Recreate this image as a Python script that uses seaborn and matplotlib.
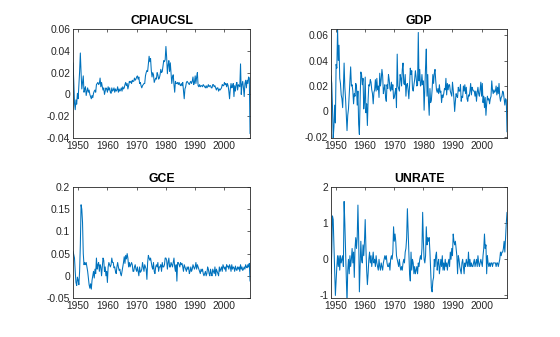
import matplotlib
matplotlib.use("Agg")
import matplotlib.pyplot as plt
import numpy as np
import pandas as pd
import seaborn as sns

# Quarterly changes, 1948Q2 - 2008Q4 (log-differences for CPI, GDP, GCE;
# first difference for the unemployment rate).
start_quarter = "1948Q2"

cpiaucsl = [
    0.029, 0.012, -0.008,
    -0.014, -0.005, -0.009, 0.001,
    -0.004, 0.008, 0.021, 0.038,
    0.020, 0.005, 0.011, 0.017,
    0.002, 0.005, 0.007, -0.001,
    0.003, 0.006, 0.002, 0.004,
    0.000, -0.002, -0.004, -0.001,
    -0.003, 0.001, 0.003, 0.004,
    0.002, 0.009, 0.010, 0.011,
    0.009, 0.010, 0.015, 0.007,
    0.011, 0.007, 0.004, 0.006,
    0.000, 0.003, 0.006, 0.005,
    0.002, 0.007, 0.004, 0.006,
    0.002, 0.001, 0.006, 0.003,
    0.004, 0.006, 0.002, 0.005,
    0.003, 0.004, 0.007, 0.002,
    0.005, 0.003, 0.004, 0.006,
    0.003, 0.007, 0.005, 0.006,
    0.009, 0.011, 0.008, 0.010,
    0.005, 0.008, 0.012, 0.011,
    0.012, 0.010, 0.013, 0.012,
    0.012, 0.015, 0.013, 0.014,
    0.016, 0.017, 0.014, 0.016,
    0.010, 0.011, 0.008, 0.006,
    0.008, 0.009, 0.010, 0.010,
    0.017, 0.020, 0.022, 0.021,
    0.028, 0.035, 0.030, 0.033,
    0.022, 0.016, 0.020, 0.018,
    0.011, 0.013, 0.015, 0.014,
    0.020, 0.018, 0.014, 0.015,
    0.018, 0.023, 0.020, 0.021,
    0.026, 0.031, 0.030, 0.032,
    0.044, 0.034, 0.019, 0.027,
    0.031, 0.021, 0.029, 0.019,
    0.010, 0.016, 0.018, 0.009,
    0.002, 0.012, 0.010, 0.010,
    0.011, 0.009, 0.011, 0.009,
    0.008, 0.010, 0.008, 0.011,
    0.003, -0.004, 0.005, 0.007,
    0.011, 0.012, 0.011, 0.010,
    0.009, 0.011, 0.012, 0.010,
    0.012, 0.016, 0.009, 0.011,
    0.017, 0.010, 0.016, 0.020,
    0.008, 0.007, 0.009, 0.007,
    0.008, 0.008, 0.007, 0.009,
    0.008, 0.007, 0.006, 0.008,
    0.006, 0.007, 0.009, 0.007,
    0.008, 0.008, 0.006, 0.006,
    0.009, 0.009, 0.007, 0.008,
    0.006, 0.004, 0.006, 0.006,
    0.003, 0.005, 0.004, 0.005,
    0.006, 0.009, 0.008, 0.008,
    0.011, 0.009, 0.010, 0.007,
    0.010, 0.008, 0.003, -0.004,
    0.005, 0.010, 0.006, 0.007,
    0.010, -0.002, 0.008, 0.003,
    0.009, 0.011, 0.004, 0.009,
    0.008, 0.007, 0.028, 0.000,
    0.009, 0.012, 0.006, -0.002,
    0.010, 0.013, 0.006, 0.013,
    0.010, 0.016, 0.015, -0.036,
]

gdp = [
    0.028, 0.022, 0.004,
    -0.021, -0.012, 0.005, -0.009,
    0.037, 0.034, 0.065, 0.040,
    0.052, 0.026, 0.022, 0.013,
    0.010, 0.003, 0.018, 0.038,
    0.019, 0.010, -0.002, -0.015,
    -0.003, 0.002, 0.013, 0.024,
    0.035, 0.020, 0.021, 0.016,
    0.006, 0.014, 0.012, 0.022,
    0.020, 0.005, 0.016, -0.010,
    -0.018, 0.009, 0.031, 0.029,
    0.021, 0.026, 0.002, 0.008,
    0.027, -0.001, 0.006, -0.011,
    0.009, 0.021, 0.020, 0.025,
    0.023, 0.017, 0.014, 0.006,
    0.015, 0.017, 0.025, 0.016,
    0.026, 0.017, 0.020, 0.011,
    0.030, 0.020, 0.025, 0.033,
    0.028, 0.014, 0.018, 0.021,
    0.011, 0.008, 0.021, 0.018,
    0.029, 0.025, 0.018, 0.016,
    0.023, 0.017, 0.021, 0.010,
    0.011, 0.015, 0.018, 0.003,
    0.045, 0.020, 0.018, 0.016,
    0.029, 0.026, 0.020, 0.033,
    0.038, 0.022, 0.021, 0.029,
    0.012, 0.021, 0.022, 0.017,
    0.010, 0.020, 0.034, 0.029,
    0.032, 0.018, 0.016, 0.021,
    0.025, 0.032, 0.027, 0.020,
    0.021, 0.062, 0.024, 0.033,
    0.020, 0.021, 0.029, 0.021,
    0.024, 0.001, 0.019, 0.035,
    0.049, 0.012, 0.029, 0.008,
    -0.003, 0.018, 0.007, 0.009,
    0.017, 0.029, 0.022, 0.030,
    0.033, 0.024, 0.017, 0.015,
    0.018, 0.014, 0.021, 0.015,
    0.016, 0.007, 0.013, 0.011,
    0.014, 0.018, 0.017, 0.026,
    0.013, 0.022, 0.017, 0.021,
    0.021, 0.016, 0.014, 0.012,
    0.023, 0.017, 0.010, 0.000,
    0.008, 0.014, 0.012, 0.011,
    0.019, 0.016, 0.016, 0.021,
    0.008, 0.012, 0.011, 0.020,
    0.016, 0.021, 0.014, 0.019,
    0.010, 0.008, 0.013, 0.012,
    0.016, 0.022, 0.013, 0.019,
    0.017, 0.016, 0.016, 0.012,
    0.016, 0.008, 0.015, 0.019,
    0.014, 0.012, 0.017, 0.023,
    0.012, 0.022, 0.007, 0.012,
    0.003, 0.011, -0.003, 0.006,
    0.012, 0.009, 0.010, 0.006,
    0.010, 0.012, 0.024, 0.017,
    0.014, 0.017, 0.015, 0.016,
    0.020, 0.013, 0.019, 0.014,
    0.022, 0.012, 0.008, 0.011,
    0.012, 0.016, 0.015, 0.010,
    0.005, 0.010, 0.009, -0.016,
]

gce = [
    0.055, 0.048, 0.040,
    0.010, -0.015, -0.022, -0.003,
    -0.010, -0.020, 0.010, 0.070,
    0.160, 0.150, 0.120, 0.050,
    0.025, 0.030, 0.025, 0.030,
    0.020, 0.010, -0.005, -0.020,
    -0.028, -0.018, -0.030, -0.010,
    0.000, 0.010, -0.005, 0.015,
    0.005, 0.040, 0.015, 0.025,
    0.030, 0.010, 0.025, 0.020,
    0.000, 0.020, 0.040, 0.035,
    0.010, 0.020, 0.000, 0.010,
    -0.015, 0.020, 0.030, 0.025,
    0.020, 0.025, 0.040, 0.030,
    0.030, 0.018, 0.020, 0.010,
    0.005, 0.020, 0.030, 0.020,
    0.012, 0.015, 0.005, 0.000,
    0.010, 0.020, 0.030, 0.043,
    0.028, 0.046, 0.038, 0.050,
    0.040, 0.020, 0.030, 0.020,
    0.025, 0.030, 0.025, 0.010,
    0.010, 0.020, 0.025, 0.015,
    0.010, 0.020, 0.010, 0.000,
    0.020, 0.008, 0.010, 0.015,
    0.030, 0.020, 0.010, 0.025,
    0.020, 0.015, -0.008, 0.030,
    0.046, 0.040, 0.035, 0.040,
    0.030, 0.020, 0.015, 0.030,
    0.010, 0.005, 0.020, 0.025,
    0.020, 0.030, 0.010, 0.020,
    0.020, 0.025, 0.010, 0.030,
    0.020, 0.020, 0.025, 0.040,
    0.040, 0.035, 0.015, 0.030,
    0.040, 0.020, 0.020, 0.030,
    0.025, 0.020, 0.030, 0.040,
    0.020, 0.010, 0.025, -0.012,
    0.030, 0.030, 0.025, 0.020,
    0.030, 0.025, 0.028, 0.020,
    0.010, 0.025, 0.020, 0.015,
    0.010, 0.020, 0.015, 0.020,
    0.005, 0.010, 0.020, 0.010,
    0.015, 0.025, 0.020, 0.015,
    0.020, 0.030, 0.015, 0.025,
    0.020, 0.015, 0.010, 0.005,
    0.015, 0.010, 0.015, 0.005,
    0.000, 0.005, 0.010, 0.000,
    0.005, 0.020, 0.015, 0.005,
    0.000, 0.015, 0.005, 0.000,
    0.015, 0.010, 0.005, 0.020,
    0.000, 0.015, 0.010, 0.005,
    0.000, 0.020, 0.010, 0.015,
    0.020, 0.010, 0.025, 0.020,
    0.015, 0.020, 0.010, 0.025,
    0.020, 0.022, 0.015, 0.025,
    0.020, 0.010, 0.025, 0.015,
    0.020, 0.018, 0.010, 0.022,
    0.015, 0.012, 0.020, 0.015,
    0.020, 0.010, 0.025, 0.015,
    0.020, 0.012, 0.015, 0.020,
    0.015, 0.025, 0.020, 0.018,
    0.025, 0.020, 0.028, -0.012,
]

unrate = [
    -0.4, 0.2, 1.2,
    1.1, 0.4, -0.3, -1.0,
    -0.6, -0.2, 0.1, -0.2,
    0.1, -0.3, 0.1, -0.1,
    0.0, 0.1, -0.2, 1.6,
    1.0, 0.2, -0.5, -1.2,
    -0.3, 0.0, -0.4, 0.1,
    -0.2, 0.0, 0.3, -0.1,
    0.2, -0.5, 0.3, 0.6,
    0.3, 0.6, 1.5, 0.6,
    -0.9, -0.2, 0.5, 0.0,
    -0.1, 0.4, 0.1, 0.5,
    1.1, 0.3, -0.3, -0.7,
    -0.4, 0.0, 0.2, -0.1,
    0.1, -0.2, 0.0, 0.2,
    -0.1, 0.0, -0.2, 0.1,
    -0.1, -0.2, -0.3, 0.0,
    -0.2, -0.3, -0.1, -0.2,
    -0.3, -0.1, 0.0, 0.1,
    0.0, 0.1, -0.1, -0.2,
    -0.2, -0.1, -0.3, 0.0,
    0.1, 0.0, 0.2, 0.9,
    0.5, 0.7, 0.5, 0.1,
    0.0, -0.1, -0.2, 0.0,
    -0.2, -0.3, -0.2, -0.3,
    -0.1, 0.0, -0.1, 0.2,
    0.3, 0.6, 1.4, 0.8,
    0.2, -0.4, -0.6, 0.2,
    -0.3, 0.0, -0.1, -0.4,
    -0.2, -0.4, -0.3, -0.2,
    -0.4, -0.1, -0.2, 0.0,
    0.1, 0.0, 0.3, 1.3,
    0.5, 0.0, -0.1, 0.1,
    0.9, 0.4, 0.6, 0.5,
    0.6, 0.2, -0.3, -0.8,
    -0.9, -0.6, -0.5, 0.0,
    -0.2, 0.1, 0.2, -0.3,
    -0.1, 0.0, -0.4, -0.2,
    0.0, -0.2, 0.1, -0.3,
    -0.1, -0.3, 0.0, -0.2,
    -0.1, -0.3, -0.1, 0.0,
    -0.2, 0.2, 0.0, 0.3,
    0.1, 0.7, 0.5, 0.4,
    0.5, 0.3, 0.1, -0.4,
    0.1, 0.0, -0.2, -0.3,
    -0.4, -0.1, 0.0, -0.2,
    -0.4, -0.1, -0.2, 0.0,
    -0.1, -0.2, 0.2, -0.2,
    0.0, -0.2, -0.1, -0.2,
    -0.2, -0.1, 0.0, -0.2,
    -0.1, 0.0, -0.2, 0.1,
    -0.1, -0.2, -0.1, 0.0,
    -0.1, -0.2, 0.1, 0.3,
    0.7, 0.3, 0.4, -0.4,
    0.1, -0.1, -0.2, -0.1,
    -0.2, -0.1, -0.1, -0.2,
    -0.1, -0.1, -0.1, -0.1,
    -0.2, -0.1, -0.1, -0.2,
    -0.1, 0.0, 0.2, 0.1,
    0.2, 0.2, 0.3, 0.5,
    0.2, 0.6, 1.0, 1.3,
]

titles = ["CPIAUCSL", "GDP", "GCE", "UNRATE"]
series = [cpiaucsl, gdp, gce, unrate]
year_ticks = [1950, 1960, 1970, 1980, 1990, 2000]
y_ticks = [
    [-0.04, -0.02, 0, 0.02, 0.04, 0.06],
    [-0.02, 0, 0.02, 0.04, 0.06],
    [-0.05, 0, 0.05, 0.1, 0.15, 0.2],
    [-1, 0, 1, 2],
]
y_limits = [(-0.04, 0.06), (-0.0208, 0.0647), (-0.05, 0.2), (-1.07, 2.0)]

sns.set_style("white")
plt.rcParams["font.family"] = ["Liberation Sans", "DejaVu Sans"]

line_color = "#0072BD"
edge_color = "#262626"

fig = plt.figure(figsize=(5.6, 3.37), dpi=100)
fig.patch.set_facecolor("white")

boxes = [
    [0.1304, 0.5905, 0.3161, 0.3234],
    [0.5911, 0.5905, 0.3143, 0.3234],
    [0.1304, 0.1157, 0.3161, 0.3294],
    [0.5911, 0.1157, 0.3143, 0.3294],
]

for box, name, values, yt, yl in zip(boxes, titles, series, y_ticks, y_limits):
    periods = pd.period_range(start_quarter, periods=len(values), freq="Q")
    df = pd.DataFrame({
        "date": periods.year + (periods.quarter - 1) / 4.0,
        "value": values,
    })
    ax = fig.add_axes(box)
    sns.lineplot(data=df, x="date", y="value", ax=ax, color=line_color,
                 linewidth=0.75, estimator=None)
    ax.set_xlim(df["date"].min(), df["date"].max())
    ax.set_ylim(*yl)
    ax.set_xticks(year_ticks)
    ax.set_xticklabels([str(y) for y in year_ticks])
    ax.set_yticks(yt)
    ax.set_yticklabels(["%g" % v for v in yt])
    ax.set_xlabel("")
    ax.set_ylabel("")
    ax.set_title(name, fontsize=8.8, fontweight="bold", color="black", pad=3.5)
    ax.tick_params(direction="in", length=2.5, width=0.5, labelsize=7.4,
                   colors=edge_color, top=True, right=True, pad=2)
    for spine in ax.spines.values():
        spine.set_visible(True)
        spine.set_color(edge_color)
        spine.set_linewidth(0.6)

fig.savefig("out.png", dpi=100, facecolor="white")
